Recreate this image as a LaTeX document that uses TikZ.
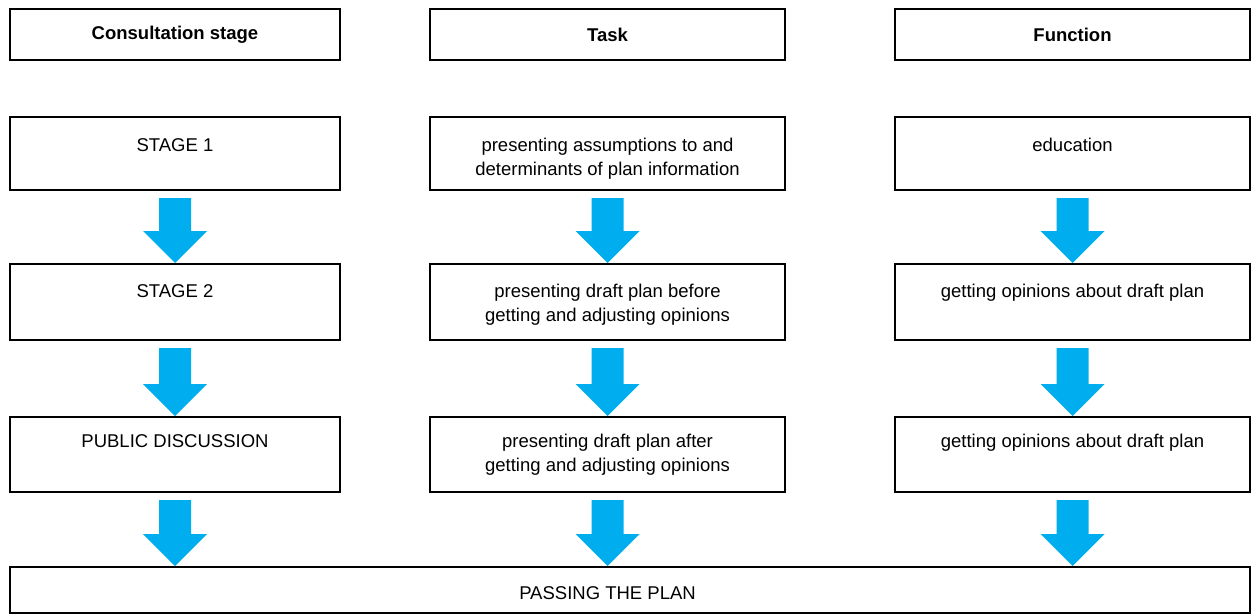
\documentclass[tikz,border=0pt]{standalone}
\usepackage{fontspec}
\setmainfont{Liberation Sans}
\usepackage{tikz}
\usetikzlibrary{calc}
\definecolor{flowblue}{RGB}{0,174,239}
\tikzstyle{box}=[draw,line width=1pt,rectangle,inner sep=0pt,font=\fontsize{9.25}{12}\selectfont]
\tikzstyle{head box}=[box,font=\fontsize{9.25}{12}\selectfont\bfseries,minimum height=25.5pt]
\tikzstyle{txt}=[align=center,inner sep=0pt,anchor=north,font=\fontsize{9.25}{12}\selectfont]
\tikzstyle{flow}=[fill=flowblue]

\begin{document}
\begin{tikzpicture}[x=0.5pt,y=-0.5pt]
    \useasboundingbox (0,0) rectangle (1252,615);
    % Column headers
    \node[head box,minimum width=165pt] (h1) at (175,34.5) {Consultation stage};
    \node[head box,minimum width=177.5pt] (h2) at (607.5,34.5) {Task};
    \node[head box,minimum width=177.5pt] (h3) at (1072.5,34.5) {Function};

    % The boxes of the three rows
    \foreach \pos/\name/\w/\h in {{(175,153.5)/s1/165pt/36.5pt}, {(175,302)/s2/165pt/38pt}, {(175,454.5)/pd/165pt/37.5pt},
                                  {(607.5,153.5)/t1/177.5pt/36.5pt}, {(607.5,302)/t2/177.5pt/38pt}, {(607.5,454.5)/t3/177.5pt/37.5pt},
                                  {(1072.5,153.5)/f1/177.5pt/36.5pt}, {(1072.5,302)/f2/177.5pt/38pt}, {(1072.5,454.5)/f3/177.5pt/37.5pt}}
        \node[box,minimum width=\w,minimum height=\h] (\name) at \pos {};

    % Texts sit near the top of their boxes
    \node[txt] (s1-t) at ($(s1.north)+(0,22)$) {STAGE 1};
    \node[txt] (s2-t) at ($(s2.north)+(0,21)$) {STAGE 2};
    \node[txt] (pd-t) at ($(pd.north)+(0,18)$) {PUBLIC DISCUSSION};
    \node[txt] (t1-t) at ($(t1.north)+(0,22)$) {presenting assumptions to and\\determinants of plan information};
    \node[txt] (t2-t) at ($(t2.north)+(0,21)$) {presenting draft plan before\\getting and adjusting opinions};
    \node[txt] (t3-t) at ($(t3.north)+(0,18)$) {presenting draft plan after\\getting and adjusting opinions};
    \node[txt] (f1-t) at ($(f1.north)+(0,22)$) {education};
    \node[txt] (f2-t) at ($(f2.north)+(0,21)$) {getting opinions about draft plan};
    \node[txt] (f3-t) at ($(f3.north)+(0,18)$) {getting opinions about draft plan};

    % The plan box, its text under the middle column
    \node[box,minimum width=620pt,minimum height=23pt] (pass) at (630,590) {};
    \node[txt,anchor=center] (pass-t) at ($(t3.south |- pass.center)+(0,3)$) {PASSING THE PLAN};

    % Block arrows between the boxes
    \foreach \src/\dst in {s1/s2, s2/pd, pd/pass, t1/t2, t2/t3, t3/pass, f1/f2, f2/f3, f3/pass}
        \fill[flow] ($(\src.south)+(-16,7)$) -- ($(\src.south)+(16,7)$)
            -- ($(\src.south |- \dst.north)+(16,-32)$) -- ($(\src.south |- \dst.north)+(32,-32)$)
            -- (\src.south |- \dst.north)
            -- ($(\src.south |- \dst.north)+(-32,-32)$) -- ($(\src.south |- \dst.north)+(-16,-32)$) -- cycle;

\end{tikzpicture}
\end{document}
